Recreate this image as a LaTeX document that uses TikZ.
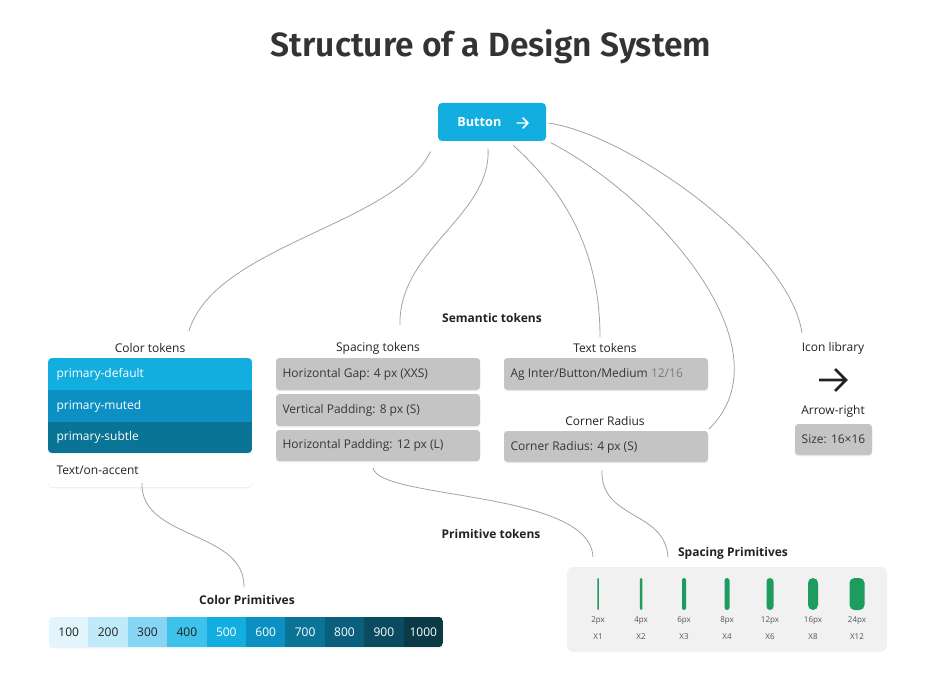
\documentclass[tikz,border=0pt]{standalone}
\usepackage{fontspec}
\setmainfont{Open Sans}
\newfontfamily\titlefont{Fira Sans SemiBold}
\usetikzlibrary{shadows}

\definecolor{ink}{HTML}{222222}
\definecolor{titleink}{HTML}{333333}
\definecolor{linkgray}{HTML}{A3A3A3}
\definecolor{tokgray}{HTML}{C4C4C4}
\definecolor{tokink}{HTML}{363636}
\definecolor{tokdim}{HTML}{7C7C7C}
\definecolor{panelgray}{HTML}{F1F1F1}
\definecolor{bargreen}{HTML}{1E9C5F}
\definecolor{tinyink}{HTML}{555555}
\definecolor{pA}{HTML}{E3F5FC}
\definecolor{pB}{HTML}{BFEAF9}
\definecolor{pC}{HTML}{86D6F3}
\definecolor{pD}{HTML}{3DC2EC}
\definecolor{pE}{HTML}{13AEE0}
\definecolor{pF}{HTML}{0C8FC3}
\definecolor{pG}{HTML}{0A7497}
\definecolor{pH}{HTML}{0A607C}
\definecolor{pI}{HTML}{0B4B5F}
\definecolor{pJ}{HTML}{093A45}

\newcommand\dsbody{\fontsize{9}{11}\selectfont}

\tikzset{every picture/.style={line width=0.75pt}}
\tikzset{
  link/.style={draw=linkgray, line width=0.6pt},
  caption/.style={font=\dsbody, text=ink, inner sep=1pt},
  group/.style={font=\dsbody\bfseries, text=ink, inner sep=1pt},
  softshadow/.style={drop shadow={opacity=0.12, shadow xshift=0pt, shadow yshift=-1pt}},
  tokenbox/.style={fill=tokgray, rounded corners=2.5pt, softshadow},
  tokentext/.style={anchor=west, font=\dsbody, text=tokink, inner sep=0pt},
  rowtext/.style={anchor=west, font=\dsbody, text=white, inner sep=0pt},
  tiny/.style={font=\fontsize{6}{7}\selectfont, text=tinyink, inner sep=0pt},
}

\begin{document}
\begin{tikzpicture}[x=0.75pt,y=0.75pt,yscale=-1,xscale=1]
	\useasboundingbox (0,0) rectangle (936,692);
	\fill[white] (0,0) rectangle (936,692);

	% Title
	\node[font=\titlefont\fontsize{25.2}{30}\selectfont, text=titleink] (title) at (491,47) {Structure of a Design System};

	% Button
	\node[fill=pE, rounded corners=3pt, minimum width=81pt, minimum height=28.5pt, text=white, font=\fontsize{9.5}{11}\selectfont\bfseries] (btn) at (492,122) {Button\kern 19pt};
	\draw[white, line width=1.1pt, line cap=round, line join=round] (517,123) -- (528,123) (523,118) -- (528,123) -- (523,128);

	% group captions
	\node[group] (semantic) at (492,318) {Semantic tokens};
	\node[group] (primitive) at (491,534) {Primitive tokens};

	%Color tokens
	\node[caption] (ctLabel) at (150,348) {Color tokens};
	\fill[white, rounded corners=3pt, softshadow] (48,358) rectangle (252,453);
	\begin{scope}
		\clip[rounded corners=3pt] (48,358) rectangle (252,453);
		\fill[pE] (48,358) rectangle (252,390);
		\fill[pF] (48,390) rectangle (252,422);
		\fill[pG] (48,422) rectangle (252,453);
	\end{scope}
	\fill[white, rounded corners=3pt, softshadow] (48,454) rectangle (252,487);
	\node[rowtext] (ctDefault) at (56,374) {primary-default};
	\node[rowtext] (ctMuted) at (56,406) {primary-muted};
	\node[rowtext] (ctSubtle) at (56,437) {primary-subtle};
	\node[rowtext, text=ink] (ctAccent) at (56,470) {Text/on-accent};

	%Spacing tokens
	\node[caption] (spLabel) at (378,348) {Spacing tokens};
	\fill[tokenbox] (276,358) rectangle (480,390);
	\fill[tokenbox] (276,394) rectangle (480,426);
	\fill[tokenbox] (276,430) rectangle (480,461);
	\node[tokentext] (spGap) at (282,374) {Horizontal Gap: 4 px (XXS)};
	\node[tokentext] (spVert) at (282,410) {Vertical Padding: 8 px (S)};
	\node[tokentext] (spHor) at (282,445) {Horizontal Padding: 12 px (L)};

	%Text tokens
	\node[caption] (ttLabel) at (605,348) {Text tokens};
	\fill[tokenbox] (504,358) rectangle (708,390);
	\node[tokentext] (ttStyle) at (510,374) {Ag Inter/Button/Medium \textcolor{tokdim}{12/16}};

	%Corner radius
	\node[caption] (crLabel) at (605,421) {Corner Radius};
	\fill[tokenbox] (504,431) rectangle (708,462);
	\node[tokentext] (crValue) at (510,447) {Corner Radius: 4 px (S)};

	%Icon library
	\node[caption] (icLabel) at (833,348) {Icon library};
	\draw[ink, line width=2pt, line join=miter] (819,380) -- (846,380) (835,369) -- (846,380) -- (835,391);
	\node[caption] (icName) at (833,411) {Arrow-right};
	\fill[tokenbox] (795,424) rectangle (872,455);
	\node[tokentext, anchor=center] (icSize) at (833.5,439.5) {Size: 16×16};

	%Color primitives
	\node[group] (cpLabel) at (247,600) {Color Primitives};
	\fill[white, rounded corners=3pt, softshadow] (49,617) rectangle (443,647);
	\begin{scope}
		\clip[rounded corners=3pt] (49,617) rectangle (443,647);
		\foreach \c/\t/\f [count=\i from 0] in {pA/100/ink, pB/200/ink, pC/300/ink, pD/400/ink, pE/500/white, pF/600/white, pG/700/white, pH/800/white, pI/900/white, pJ/1000/white} {
			\fill[\c] (49+\i*39.4,617) rectangle (49+\i*39.4+39.6,647);
			\node[font=\dsbody, text=\f, inner sep=0pt] (cp\t) at (49+\i*39.4+19.7,632) {\t};
		}
	\end{scope}

	%Spacing primitives
	\node[group] (sppLabel) at (733,553) {Spacing Primitives};
	\fill[panelgray, rounded corners=5pt] (567,567) rectangle (887,652);
	\foreach \x/\w/\px/\mul [count=\i] in {598/1.5/2px/X1, 641/2.5/4px/X2, 684/4/6px/X3, 727/5/8px/X4, 770/7/12px/X6, 813/10/16px/X8, 857/15/24px/X12} {
		\pgfmathsetmacro\rc{min(\w/2,5)*0.75}
		\fill[bargreen, rounded corners=\rc pt] (\x-\w/2,578) rectangle (\x+\w/2,610);
		\node[tiny] (px\i) at (\x,621) {\px};
		\node[tiny] (mul\i) at (\x,637) {\mul};
	}

	% connector ends
	\coordinate (ctIn) at (189,331);
	\coordinate (spIn) at (400,325);
	\coordinate (ttIn) at (600,337);
	\coordinate (crIn) at (709,429);
	\coordinate (icIn) at (802,333);
	\coordinate (cpIn) at (244,587);
	\coordinate (ptIn) at (593,557);
	\coordinate (sppIn) at (668,557);

	% connectors
	\draw[link] ([shift={(-7,10)}]btn.south west) .. controls (395,225) and (215,245) .. (ctIn);
	\draw[link] ([shift={(-4,7)}]btn.south) .. controls (492,215) and (398,250) .. (spIn);
	\draw[link] ([shift={(-33,4)}]btn.south east) .. controls (545,175) and (600,230) .. (ttIn);
	\draw[link] ([shift={(4,1)}]btn.south east) .. controls (660,200) and (790,350) .. (crIn);
	\draw[link] ([shift={(2,1)}]btn.east) .. controls (630,135) and (790,250) .. (icIn);
	\draw[link] ([shift={(0,8)}]ctAccent.south -| 142,0) .. controls (140,540) and (245,530) .. (cpIn);
	\draw[link] (373,468) .. controls (380,500) and (590,490) .. (ptIn);
	\draw[link] (602,470) .. controls (600,520) and (665,510) .. (sppIn);

\end{tikzpicture}
\end{document}
